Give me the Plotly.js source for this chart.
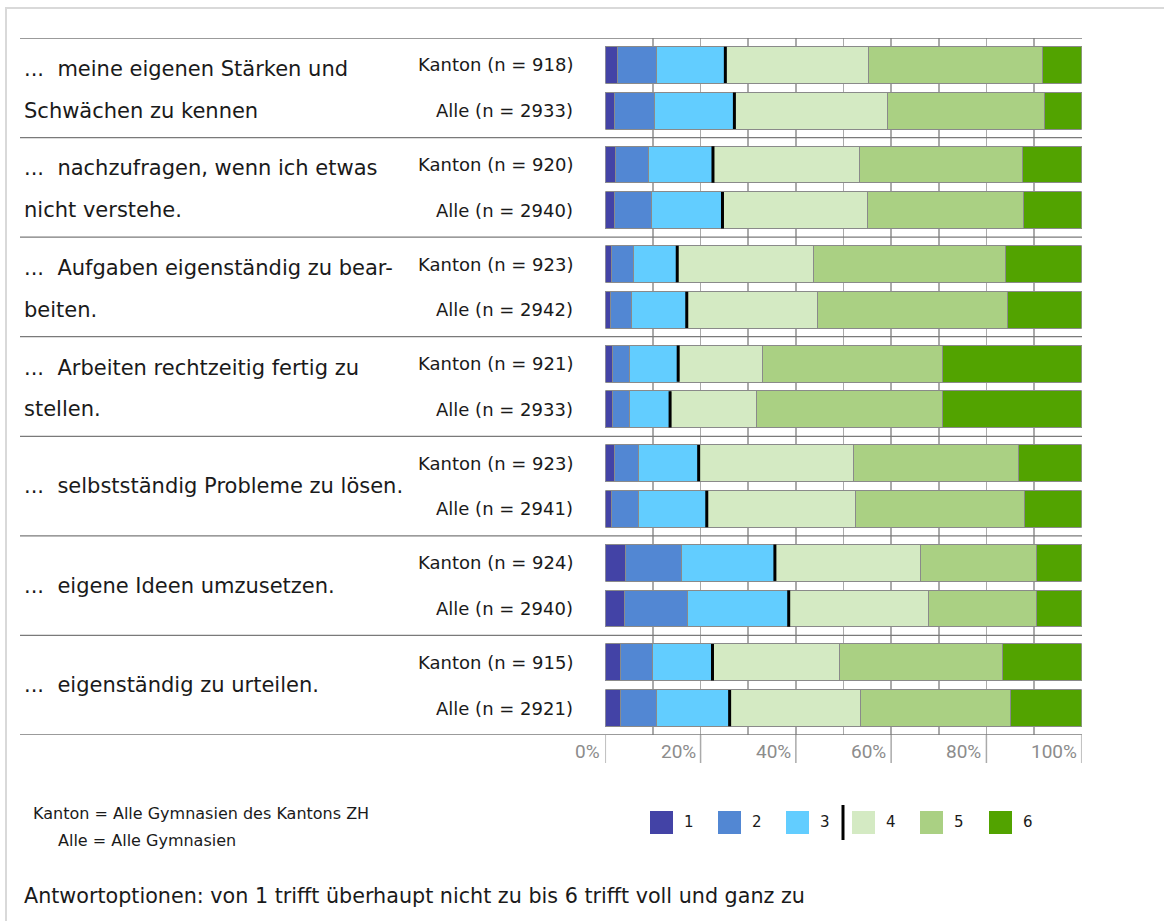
<!DOCTYPE html>
<html>
<head>
<meta charset="utf-8">
<script src="https://cdn.plot.ly/plotly-3.0.1.min.js"></script>
<style>html,body{margin:0;padding:0;background:#fff;}#chart{width:1164px;height:921px;}</style>
</head>
<body>
<div id="chart"></div>
<script>
// ---- data ----
const groupLabels = [
  ["...\u00a0 meine eigenen Stärken und", "Schwächen zu kennen"],
  ["...\u00a0 nachzufragen, wenn ich etwas", "nicht verstehe."],
  ["...\u00a0 Aufgaben eigenständig zu bear-", "beiten."],
  ["...\u00a0 Arbeiten rechtzeitig fertig zu", "stellen."],
  ["...\u00a0 selbstständig Probleme zu lösen."],
  ["...\u00a0 eigene Ideen umzusetzen."],
  ["...\u00a0 eigenständig zu urteilen."]
];
const rowLabels = [
  "Kanton (n = 918)", "Alle (n = 2933)",
  "Kanton (n = 920)", "Alle (n = 2940)",
  "Kanton (n = 923)", "Alle (n = 2942)",
  "Kanton (n = 921)", "Alle (n = 2933)",
  "Kanton (n = 923)", "Alle (n = 2941)",
  "Kanton (n = 924)", "Alle (n = 2940)",
  "Kanton (n = 915)", "Alle (n = 2921)"
];
const optionNames = ["1", "2", "3", "4", "5", "6"];
const val1 = [2.5, 2.0, 2.2, 2.0, 1.2, 1.0, 1.5, 1.5, 1.9, 1.4, 4.2, 4.1, 3.2, 3.2];
const val2 = [8.3, 8.4, 6.9, 7.6, 4.7, 4.5, 3.6, 3.6, 5.0, 5.5, 11.9, 13.2, 6.7, 7.6];
const val3 = [14.4, 16.7, 13.5, 15.0, 9.2, 11.6, 10.2, 8.5, 12.7, 14.4, 19.5, 21.2, 12.6, 15.3];
const val4 = [30.1, 32.1, 30.7, 30.4, 28.5, 27.4, 17.7, 18.2, 32.4, 31.2, 30.6, 29.3, 26.6, 27.5];
const val5 = [36.4, 32.9, 34.2, 32.8, 40.3, 39.9, 37.8, 39.0, 34.8, 35.5, 24.4, 22.8, 34.2, 31.4];
const val6 = [8.3, 7.9, 12.5, 12.2, 16.1, 15.6, 29.2, 29.2, 13.2, 12.0, 9.4, 9.4, 16.7, 15.0];
const tickVals = [0, 20, 40, 60, 80, 100];
const tickLabels = ["0%", "20%", "40%", "60%", "80%", "100%"];
const noteLines = ["Kanton = Alle Gymnasien des Kantons ZH", "Alle = Alle Gymnasien"];
const footer = "Antwortoptionen: von 1 trifft überhaupt nicht zu bis 6 trifft voll und ganz zu";

// ---- styling ----
const colors = ["#4343a6", "#5287d3", "#62cdff", "#d4eac3", "#aad083", "#52a300"];
const W = 1164, H = 921;
const px = v => v / W;
const py = v => 1 - v / H;
const FONT = "DejaVu Sans";
const TICKFONT = "Roboto";
const TXT = "#1a1a1a";
const ALLE_OFF = 0.46;

const values = [val1, val2, val3, val4, val5, val6];
const yPos = rowLabels.map((_, i) => Math.floor(i / 2) + (i % 2) * ALLE_OFF);

const traces = values.map((v, k) => ({
  type: "bar", orientation: "h", x: v, y: yPos, width: 0.37,
  name: optionNames[k], showlegend: false, hoverinfo: "skip",
  marker: { color: colors[k], line: { color: "#8a8a8a", width: 1 } }
}));
// black marker at boundary between option 3 and 4
traces.push({
  type: "scatter", mode: "markers", showlegend: false, hoverinfo: "skip",
  x: rowLabels.map((_, i) => val1[i] + val2[i] + val3[i]), y: yPos,
  marker: { symbol: "line-ns", size: 26, color: "#000", line: { color: "#000", width: 3 } }
});

const shapes = [];
const annotations = [];
// outer frame
shapes.push({ type: "rect", xref: "paper", yref: "paper", x0: px(6), x1: px(1180), y0: py(940), y1: py(8),
  line: { color: "#d9d9d9", width: 2 }, fillcolor: "rgba(0,0,0,0)", layer: "below" });
// group separators
for (let g = -1; g < groupLabels.length; g++) {
  shapes.push({ type: "line", xref: "paper", yref: "y", x0: px(20), x1: px(1082), y0: g + 0.73, y1: g + 0.73,
    line: { color: "#7a7a7a", width: 1.3 }, layer: "above" });
}
// gridline extensions under axis
tickVals.forEach(t => {
  shapes.push({ type: "line", xref: "x", yref: "paper", x0: t, x1: t, y0: py(735), y1: py(763),
    line: { color: "#aaaaaa", width: 1.5 } });
});
// tick labels
tickVals.forEach((t, i) => {
  annotations.push({ xref: "x", yref: "paper", x: t, y: py(751), xanchor: "right", yanchor: "middle",
    xshift: -3, showarrow: false, text: tickLabels[i], font: { family: TICKFONT, size: 19, color: "#8c8c8c" } });
});
// group labels
groupLabels.forEach((lines, g) => {
  if (lines.length === 2) {
    annotations.push({ xref: "paper", yref: "y", x: px(22), y: g, yshift: -4, xanchor: "left", yanchor: "middle",
      showarrow: false, text: lines[0], font: { family: FONT, size: 21, color: TXT } });
    annotations.push({ xref: "paper", yref: "y", x: px(22), y: g + ALLE_OFF, yshift: 0, xanchor: "left", yanchor: "middle",
      showarrow: false, text: lines[1], font: { family: FONT, size: 21, color: TXT } });
  } else {
    annotations.push({ xref: "paper", yref: "y", x: px(22), y: g + ALLE_OFF / 2, xanchor: "left", yanchor: "middle",
      showarrow: false, text: lines[0], font: { family: FONT, size: 21, color: TXT } });
  }
});
// row labels
rowLabels.forEach((t, i) => {
  annotations.push({ xref: "paper", yref: "y", x: px(575), y: yPos[i], xanchor: "right", yanchor: "middle",
    showarrow: false, text: t, font: { family: FONT, size: 18, color: TXT } });
});
// notes
annotations.push({ xref: "paper", yref: "paper", x: px(31), y: py(813), xanchor: "left", yanchor: "middle",
  showarrow: false, text: noteLines[0], font: { family: FONT, size: 16, color: TXT } });
annotations.push({ xref: "paper", yref: "paper", x: px(56), y: py(840), xanchor: "left", yanchor: "middle",
  showarrow: false, text: noteLines[1], font: { family: FONT, size: 16, color: TXT } });
annotations.push({ xref: "paper", yref: "paper", x: px(22), y: py(896), xanchor: "left", yanchor: "middle",
  showarrow: false, text: footer, font: { family: FONT, size: 20.7, color: TXT } });
// custom legend
const legX = [650, 718, 786, 852, 920, 989];
optionNames.forEach((n, k) => {
  shapes.push({ type: "rect", xref: "paper", yref: "paper", x0: px(legX[k]), x1: px(legX[k] + 23),
    y0: py(834), y1: py(811), fillcolor: colors[k], line: { width: 0 } });
  annotations.push({ xref: "paper", yref: "paper", x: px(legX[k] + 32), y: py(822), xanchor: "left", yanchor: "middle",
    showarrow: false, text: n, font: { family: FONT, size: 15, color: TXT } });
});
shapes.push({ type: "line", xref: "paper", yref: "paper", x0: px(843), x1: px(843), y0: py(840), y1: py(805),
  line: { color: "#000", width: 3 } });

const layout = {
  width: W, height: H,
  margin: { l: 0, r: 0, t: 0, b: 0 },
  paper_bgcolor: "#fff", plot_bgcolor: "#fff",
  barmode: "stack", bargap: 0,
  showlegend: false,
  xaxis: { domain: [px(605.3), px(1081.7)], range: [0, 100], dtick: 10, tick0: 0,
    showgrid: true, gridcolor: "#aaaaaa", gridwidth: 1.5, zeroline: false,
    showticklabels: false, ticks: "", showline: false, fixedrange: true },
  yaxis: { domain: [py(735), py(38)], range: [6.73, -0.27], showgrid: false, zeroline: false,
    showticklabels: false, ticks: "", showline: false, fixedrange: true },
  shapes: shapes,
  annotations: annotations,
  font: { family: FONT }
};

Plotly.newPlot("chart", traces, layout, { displayModeBar: false, staticPlot: true });
</script>
</body>
</html>
